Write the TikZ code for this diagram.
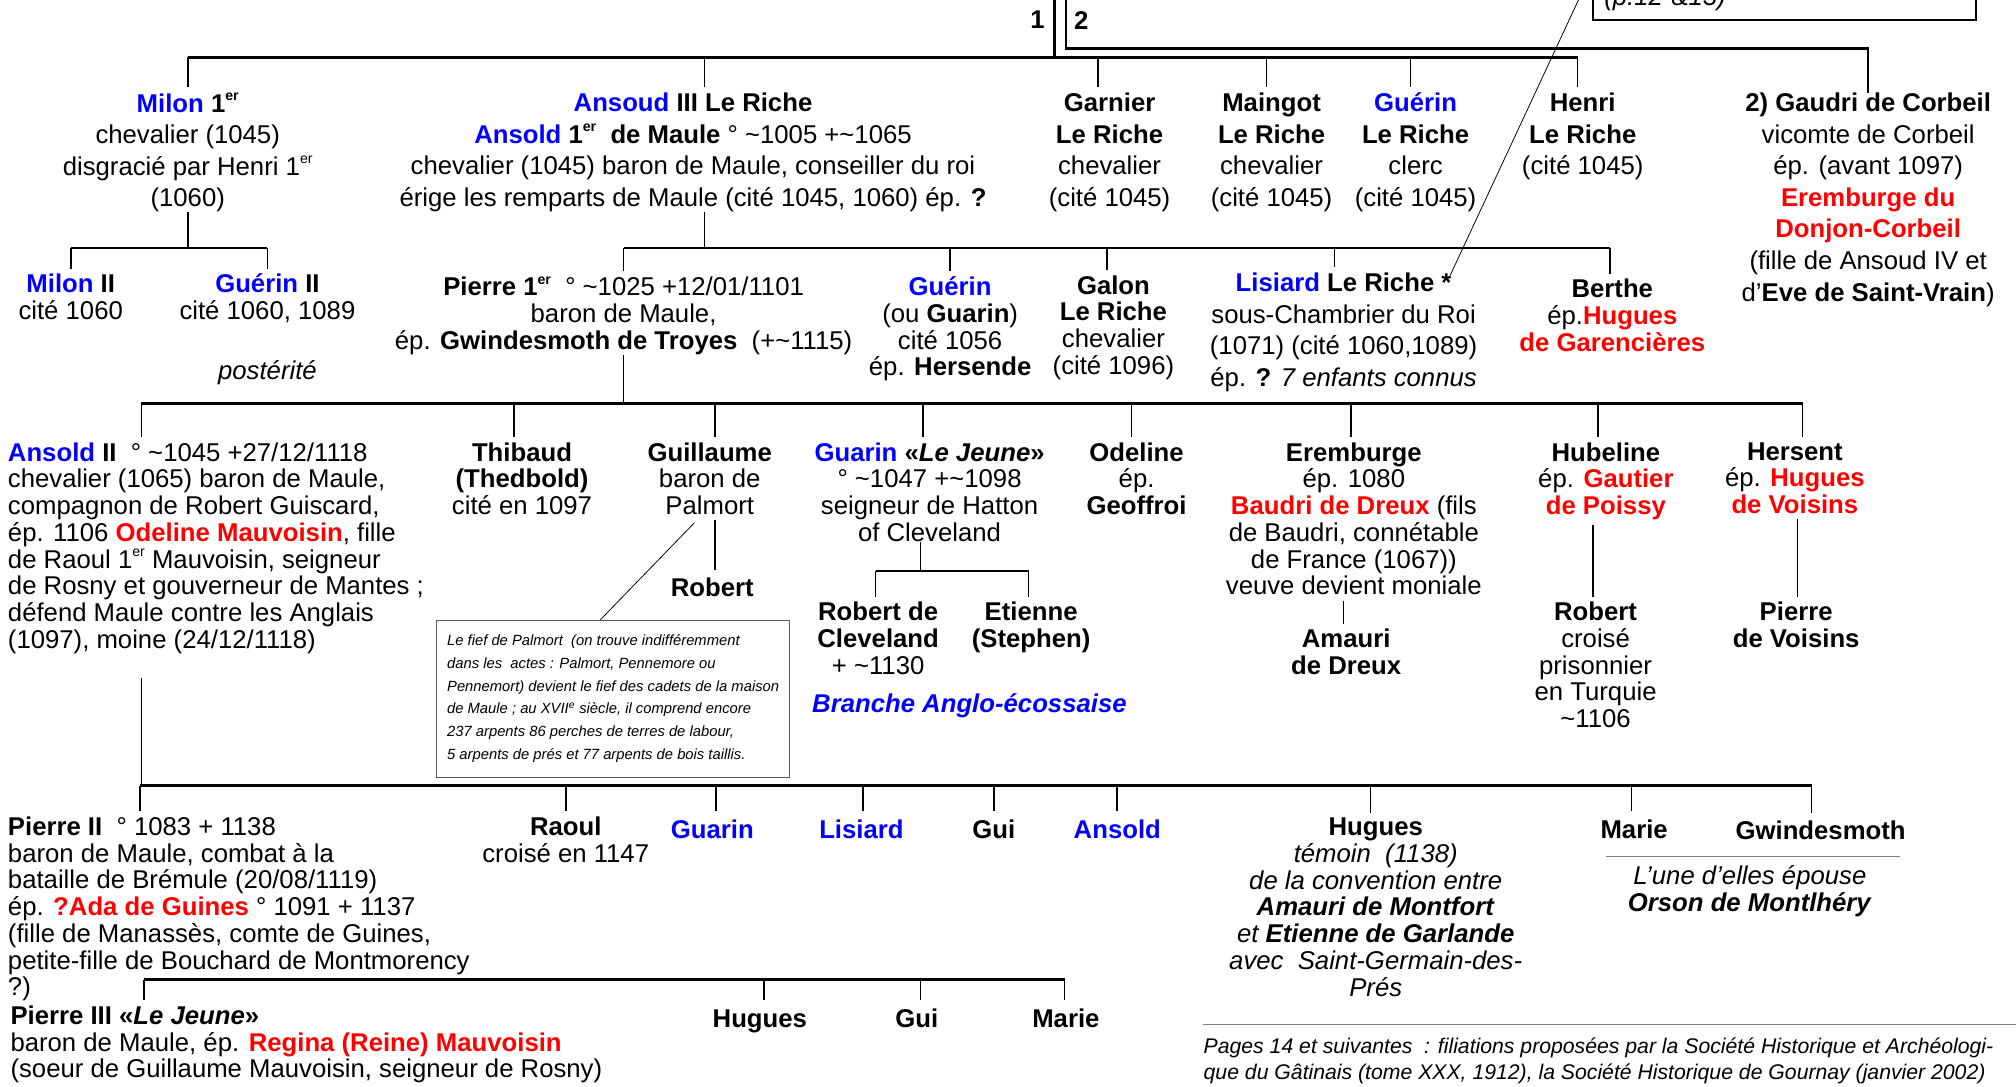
\documentclass[tikz,border=0pt]{standalone}
\usepackage{fontspec}
\setmainfont{Liberation Sans}
\usepackage{xcolor}
\usepackage{tikz}
\usetikzlibrary{calc}
\definecolor{nameblue}{RGB}{0,0,255}
\definecolor{namered}{RGB}{255,0,0}
\newcommand\pfont{\fontsize{20}{20.8}\selectfont}
\newcommand\pfontw{\fontsize{20}{24.6}\selectfont}
\newcommand\blu[1]{\textcolor{nameblue}{\textbf{#1}}}
\newcommand\rouge[1]{\textcolor{namered}{\textbf{#1}}}
\newcommand\ier{\raisebox{0.45em}{\fontsize{11}{11}\selectfont er}}
\newcommand\apx{\textasciitilde}
\newcommand\fs{\rule{0pt}{17pt}}

\begin{document}
\begin{tikzpicture}[x=1pt,y=-1pt,
  person/.style={anchor=north,align=center,inner sep=0pt,font=\pfont,execute at begin node=\fs},
  elder/.style={person,font=\pfontw},
  lperson/.style={person,anchor=north west,align=left},
  bar/.style={line width=2pt},
  stem/.style={line width=1.4pt},
  drop/.style={stem,shorten >=4pt},
  link/.style={stem,shorten <=4pt,shorten >=4pt},
  hint/.style={line width=0.6pt},
  sep/.style={draw=gray,line width=1pt},
  note/.style={draw=gray!70!black,line width=0.8pt,anchor=north west,align=left,minimum width=275pt,minimum height=122pt,inner sep=0pt,font=\fontsize{11.5}{17.7}\selectfont\itshape},
  pagebox/.style={draw,line width=1.6pt,anchor=south west,text width=280pt,align=left,inner xsep=9pt,inner ysep=0pt,minimum height=32pt,font=\pfont\itshape}
]
\fill[white] (0,0) rectangle (1568,845);
\useasboundingbox (0,0) rectangle (1568,845);

% generation I
\node[font=\pfont\bfseries,inner sep=0pt] (one) at (807,15.6) {1};
\node[font=\pfont\bfseries,inner sep=0pt] (two) at (841,15.6) {2};
\node[pagebox] (pages) at (1238,16) {(p.12 \&13)};

\node[elder] (milon1) at (146,72) {\blu{Milon} \textbf{1\ier}\\chevalier (1045)\\disgracié par Henri 1\ier\\(1060)};
\node[elder] (ansoud3) at (539,72) {\blu{Ansoud} \textbf{III Le Riche}\\\blu{Ansold} \textbf{1\ier\ \ de Maule} ° \apx1005 +\apx1065\\chevalier (1045) baron de Maule, conseiller du roi\\érige les remparts de Maule (cité 1045, 1060) ép. \textbf{?}};
\node[elder] (garnier) at (863,72) {\textbf{Garnier}\\\textbf{Le Riche}\\chevalier\\(cité 1045)};
\node[elder] (maingot) at (989,72) {\textbf{Maingot}\\\textbf{Le Riche}\\chevalier\\(cité 1045)};
\node[elder] (guerin1) at (1101,72) {\blu{Guérin}\\\textbf{Le Riche}\\clerc\\(cité 1045)};
\node[elder] (henri) at (1231,72) {\textbf{Henri}\\\textbf{Le Riche}\\(cité 1045)};
\node[elder] (gaudri) at (1453,72) {\textbf{2) Gaudri de Corbeil}\\vicomte de Corbeil\\ép. (avant 1097)\\\rouge{Eremburge du}\\\rouge{Donjon-Corbeil}\\(fille de Ansoud IV et\\d’\textbf{Eve de Saint-Vrain})};

% generation II
\node[person] (milon2) at (55,213) {\blu{Milon} \textbf{II}\\cité 1060};
\node[person] (guerin2) at (208,213) {\blu{Guérin} \textbf{II}\\cité 1060, 1089};
\node[person,font=\pfont\itshape] (posterite) at (208,278) {postérité};
\node[person] (pierre1) at (485,215) {\textbf{Pierre 1\ier}\ \ ° \apx1025 +12/01/1101\\baron de Maule,\\ép. \textbf{Gwindesmoth de Troyes}\ \ (+\apx1115)};
\node[person] (guerin) at (739,215) {\blu{Guérin}\\(ou \textbf{Guarin})\\cité 1056\\ép. \textbf{Hersende}};
\node[person] (galon) at (866,214) {\textbf{Galon}\\\textbf{Le Riche}\\chevalier\\(cité 1096)};
\node[elder] (lisiard) at (1045,212) {\blu{Lisiard} \textbf{Le Riche *}\\sous-Chambrier du Roi\\(1071) (cité 1060,1089)\\ép. \textbf{?} \textit{7 enfants connus}};
\node[person] (berthe) at (1254,217) {\textbf{Berthe}\\ép.\rouge{Hugues}\\\rouge{de Garencières}};

% generation III
\node[lperson] (ansold2) at (6,344) {\blu{Ansold} \textbf{II}\ \ ° \apx1045 +27/12/1118\\chevalier (1065) baron de Maule,\\compagnon de Robert Guiscard,\\ép. 1106 \rouge{Odeline Mauvoisin}, fille\\de Raoul 1\ier\ Mauvoisin, seigneur\\de Rosny et gouverneur de Mantes ;\\défend Maule contre les Anglais\\(1097), moine (24/12/1118)};
\node[person] (thibaud) at (406,344) {\textbf{Thibaud}\\\textbf{(Thedbold)}\\cité en 1097};
\node[person] (guillaume) at (552,344) {\textbf{Guillaume}\\baron de\\Palmort};
\node[person] (robert1) at (554,447) {\textbf{Robert}};
\node[person] (guarin) at (723,344) {\blu{Guarin} \textbf{«\textit{Le Jeune}»}\\° \apx1047 +\apx1098\\seigneur de Hatton\\of Cleveland};
\node[person] (robertc) at (683,468) {\textbf{Robert de}\\\textbf{Cleveland}\\+ \apx1130};
\node[person] (etienne) at (802,468) {\textbf{Etienne}\\\textbf{(Stephen)}};
\node[person,font=\pfont\bfseries\itshape,text=nameblue] (branche) at (754,537) {Branche Anglo-écossaise};
\node[person] (odeline) at (884,344) {\textbf{Odeline}\\ép.\\\textbf{Geoffroi}};
\node[person] (eremburge) at (1053,344) {\textbf{Eremburge}\\ép. 1080\\\rouge{Baudri de Dreux} (fils\\de Baudri, connétable\\de France (1067))\\veuve devient moniale};
\node[person] (amauri) at (1047,489) {\textbf{Amauri}\\\textbf{de Dreux}};
\node[person] (hubeline) at (1249,344) {\textbf{Hubeline}\\ép. \rouge{Gautier}\\\rouge{de Poissy}};
\node[person] (robert2) at (1241,468) {\textbf{Robert}\\croisé\\prisonnier\\en Turquie\\\apx1106};
\node[person] (hersent) at (1396,344) {\textbf{Hersent}\\ép. \rouge{Hugues}\\\rouge{de Voisins}};
\node[person] (pierrev) at (1397,468) {\textbf{Pierre}\\\textbf{de Voisins}};

\node[note] (note) at (339,482) {Le fief de Palmort\ \ (on trouve indifféremment\\dans les\ \ actes : Palmort, Pennemore ou\\Pennemort) devient le fief des cadets de la maison\\de Maule ; au XVII\textsuperscript{e} siècle, il comprend encore\\237 arpents 86 perches de terres de labour,\\5 arpents de prés et 77 arpents de bois taillis.};

% generation IV
\node[lperson] (pierre2) at (6,635) {\textbf{Pierre II}\ \ ° 1083 + 1138\\baron de Maule, combat à la\\bataille de Brémule (20/08/1119)\\ép. \rouge{?Ada de Guines} ° 1091 + 1137\\(fille de Manassès, comte de Guines,\\petite-fille de Bouchard de Montmorency\\?)};
\node[person] (raoul) at (440,635) {\textbf{Raoul}\\croisé en 1147};
\node[person] (guarin2) at (554,635) {\blu{Guarin}};
\node[person] (lisiard2) at (670,635) {\blu{Lisiard}};
\node[person] (gui) at (773,635) {\textbf{Gui}};
\node[person] (ansold3) at (869,635) {\blu{Ansold}};
\node[person] (hugues) at (1070,636) {\textbf{Hugues}\\\textit{témoin\ \ (1138)}\\\textit{de la convention entre}\\\textbf{\textit{Amauri de Montfort}}\\\textit{et \textbf{Etienne de Garlande}}\\\textit{avec\ \ Saint-Germain-des-}\\\textit{Prés}};
\node[person] (marie) at (1271,635) {\textbf{Marie}};
\node[person] (gwindesmoth) at (1416,636) {\textbf{Gwindesmoth}};
\draw[sep] (1249,666) -- (1478,666);
\node[person] (epouse) at (1361,673) {\textit{L’une d’elles épouse}\\\textbf{\textit{Orson de Montlhéry}}};

% generation V
\node[lperson] (pierre3) at (8,782) {\textbf{Pierre III «\textit{Le Jeune}»}\\baron de Maule, ép. \rouge{Regina (Reine) Mauvoisin}\\(soeur de Guillaume Mauvoisin, seigneur de Rosny)};
\node[person] (hugues2) at (591,782) {\textbf{Hugues}};
\node[person] (gui2) at (713,782) {\textbf{Gui}};
\node[person] (marie2) at (829,782) {\textbf{Marie}};

% sources
\draw[sep] (936,797) -- (1570,797);
\node[anchor=north west,inner sep=0pt,align=left,font=\fontsize{16.5}{20.5}\selectfont\itshape] (sources) at (936,807) {Pages 14 et suivantes\ \ : filiations proposées par la Société Historique et Archéologi-\\que du Gâtinais (tome XXX, 1912), la Société Historique de Gournay (janvier 2002)};

% lines
\coordinate (bar0) at (0,37.6);
\coordinate (bar1) at (0,44.6);
\coordinate (bar2) at (0,193);
\coordinate (bar3) at (0,314);
\coordinate (bar3g) at (0,444);
\coordinate (bar4) at (0,611);
\coordinate (bar5) at (0,762);
\coordinate (top1) at (820,-2);
\coordinate (top2) at (829,-2);
\coordinate (star) at (1128,214);
\coordinate (pagelink) at (1237,-20);

\draw[bar] (top1) -- (top1 |- bar1);
\draw[bar] (top2) |- (gaudri.north |- bar0) -- (gaudri.north);
\draw[bar] (milon1.north |- bar1) -- ([xshift=-4pt]henri.north |- bar1);
\foreach \n/\dx in {milon1/0,ansoud3/9,garnier/-9,maingot/-4,guerin1/-4,henri/-4}
  \draw[drop] ([xshift=\dx pt]\n.north |- bar1) -- ([xshift=\dx pt]\n.north);

\draw[stem] (milon1.south) -- (milon1.south |- bar2);
\draw[bar] (milon2.north |- bar2) -- (guerin2.north |- bar2);
\draw[stem] ([xshift=9pt]ansoud3.south) -- ([xshift=9pt]ansoud3.south |- bar2);
\draw[bar] (pierre1.north |- bar2) -- ([xshift=-2pt]berthe.north |- bar2);
\foreach \n/\dx in {milon2/0,guerin2/0,pierre1/0,guerin/0,galon/-5,lisiard/-7,berthe/-2}
  \draw[drop] ([xshift=\dx pt]\n.north |- bar2) -- ([xshift=\dx pt]\n.north);

\draw[stem] (pierre1.south) -- (pierre1.south |- bar3);
\draw[bar] ([xshift=104pt]ansold2.north west |- bar3) -- ([xshift=6pt]hersent.north |- bar3);
\draw[drop] ([xshift=104pt]ansold2.north west |- bar3) -- ([xshift=104pt]ansold2.north west);
\foreach \n/\dx in {thibaud/-6,guillaume/4,guarin/-5,odeline/-4,eremburge/-2,hubeline/-6,hersent/6}
  \draw[drop] ([xshift=\dx pt]\n.north |- bar3) -- ([xshift=\dx pt]\n.north);

\draw[link] ([xshift=2pt]robert1.north |- guillaume.south) -- ([xshift=2pt]robert1.north);
\draw[stem] ([xshift=-7pt]guarin.south) -- ([xshift=-7pt]guarin.south |- bar3g);
\draw[bar] ([xshift=-2pt]robertc.north |- bar3g) -- ([xshift=-2pt]etienne.north |- bar3g);
\foreach \n in {robertc,etienne}
  \draw[drop] ([xshift=-2pt]\n.north |- bar3g) -- ([xshift=-2pt]\n.north);
\draw[link] ([xshift=-2pt]amauri.north |- eremburge.south) -- ([xshift=-2pt]amauri.north);
\draw[link] ([xshift=-2pt]robert2.north |- hubeline.south) -- ([xshift=-2pt]robert2.north);
\draw[link] ([xshift=1pt]pierrev.north |- hersent.south) -- ([xshift=1pt]pierrev.north);

\draw[hint] (star) -- (pagelink);
\draw[hint] ([shift={(-12,6)}]guillaume.south) -- ([xshift=128pt]note.north west);

\draw[stem,shorten <=19pt] ([xshift=104pt]ansold2.south west) -- ([xshift=104pt]ansold2.south west |- bar4);
\draw[bar] ([xshift=103pt]pierre2.north west |- bar4) -- ([xshift=-7pt]gwindesmoth.north |- bar4);
\draw[drop] ([xshift=103pt]pierre2.north west |- bar4) -- ([xshift=103pt]pierre2.north west);
\foreach \n/\dx in {raoul/0,guarin2/3,lisiard2/1,gui/0,ansold3/0,hugues/-4,marie/-2,gwindesmoth/-7}
  \draw[drop] ([xshift=\dx pt]\n.north |- bar4) -- ([xshift=\dx pt]\n.north);

\draw[bar] ([xshift=104pt]pierre3.north west |- bar5) -- ([xshift=-1pt]marie2.north |- bar5);
\draw[drop] ([xshift=104pt]pierre3.north west |- bar5) -- ([xshift=104pt]pierre3.north west);
\foreach \n/\dx in {hugues2/3,gui2/3,marie2/-1}
  \draw[drop] ([xshift=\dx pt]\n.north |- bar5) -- ([xshift=\dx pt]\n.north);
\end{tikzpicture}
\end{document}
